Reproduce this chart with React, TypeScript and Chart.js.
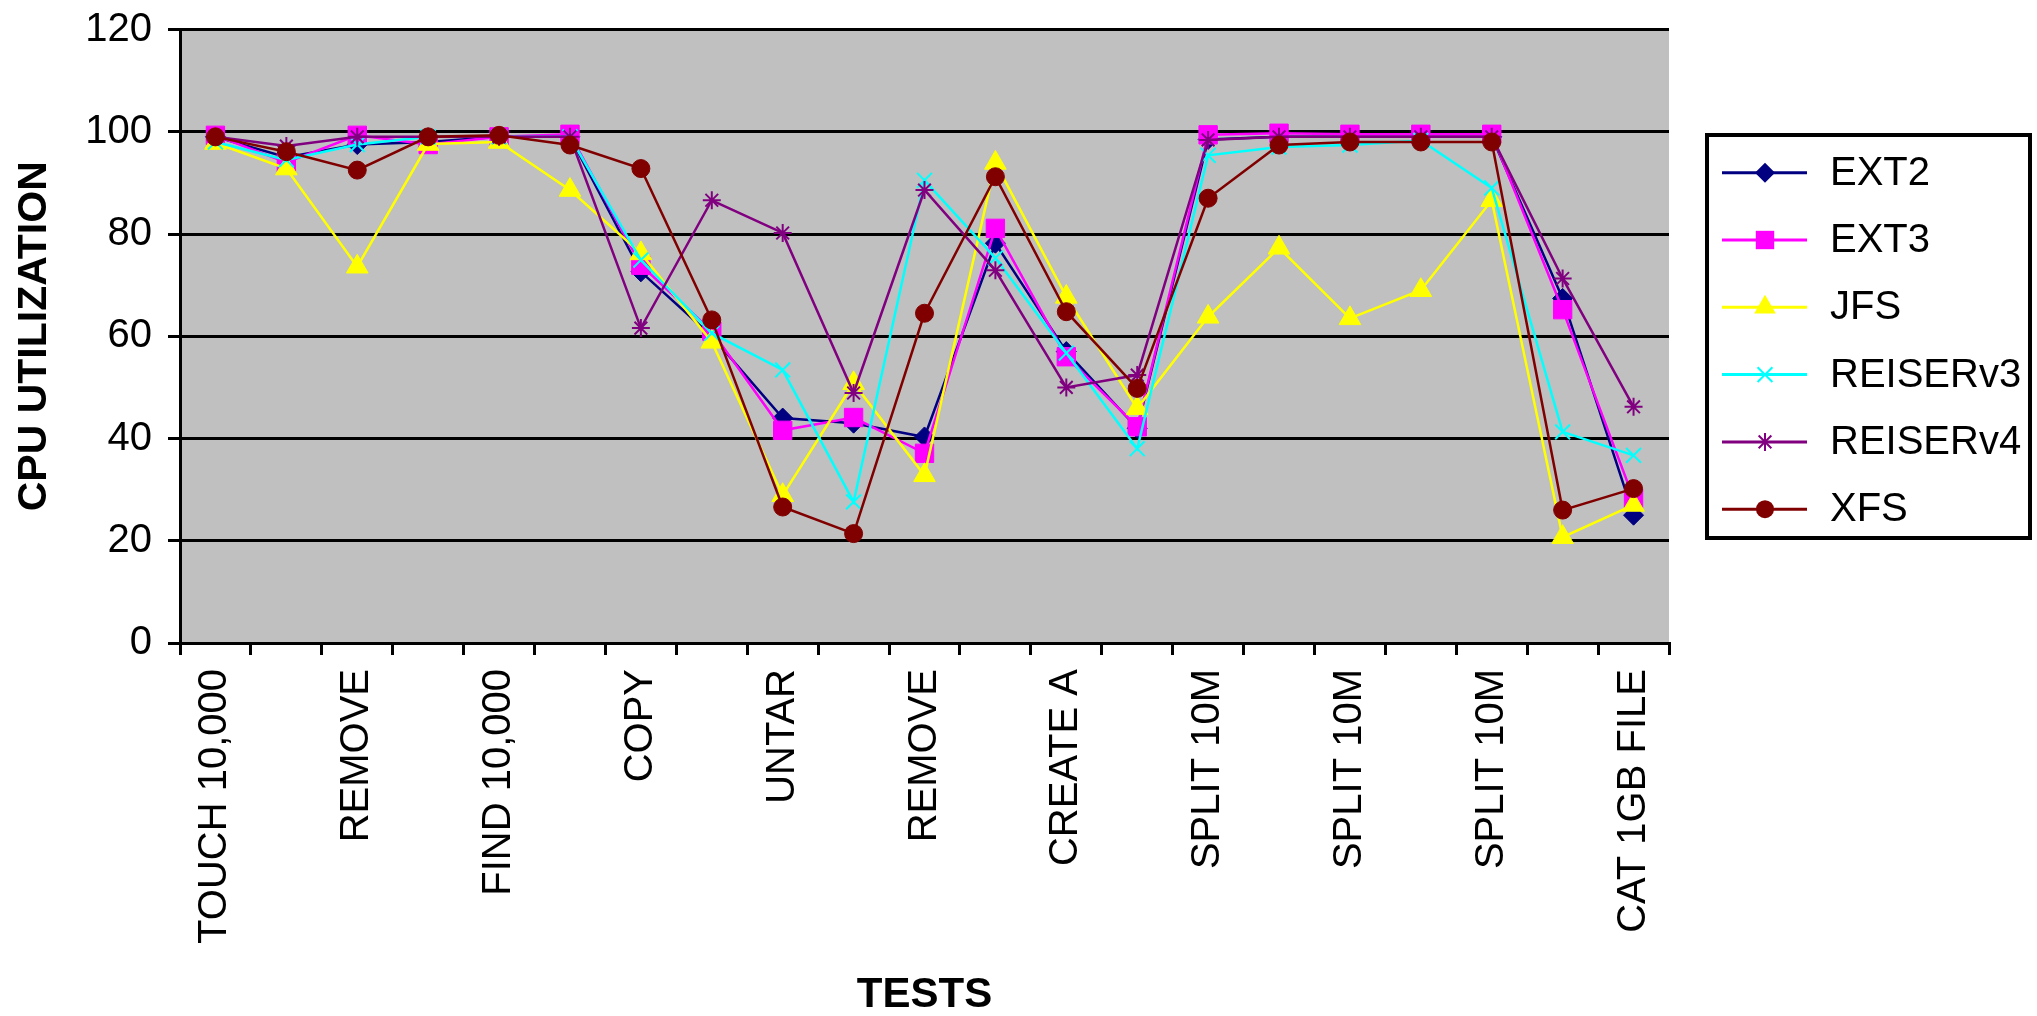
import React, { useEffect, useRef } from 'react';
import { Chart, registerables } from 'chart.js';

Chart.register(...registerables);

// ---- data ----
const categories = [
  'TOUCH 10,000', '', 'REMOVE', '', 'FIND 10,000', '', 'COPY', '', 'UNTAR', '',
  'REMOVE', '', 'CREATE A', '', 'SPLIT 10M', '', 'SPLIT 10M', '', 'SPLIT 10M', '', 'CAT 1GB FILE',
];

const seriesNames = ['EXT2', 'EXT3', 'JFS', 'REISERv3', 'REISERv4', 'XFS'];

const ext2 = [99, 95, 97.5, 98, 99, 99, 72.6, 60, 44, 43, 40.3, 78.2, 57, 42, 98.5, 99, 99, 99, 99, 67.4, 25];
const ext3 = [99.3, 94, 99.3, 97.5, 99, 99.5, 73.9, 61, 41.6, 44.1, 37.1, 81.1, 56, 42.3, 99.4, 99.7, 99.5, 99.5, 99.5, 65.2, 28.3];
const jfs = [97.8, 92.8, 73.6, 97.6, 98, 88.6, 76.2, 58.9, 28.9, 50.8, 32.8, 93.9, 67.7, 45.9, 63.8, 77.3, 63.5, 69, 86.6, 20.7, 27];
const reiserv3 = [98, 94.5, 97.5, 99, 99, 99, 74.9, 60.6, 53.4, 27.6, 90.5, 75.3, 56.7, 38, 95.4, 97, 97.4, 98.3, 89, 41.3, 36.7];
const reiserv4 = [99, 97.2, 99, 99, 99, 99, 61.6, 86.6, 80.2, 48.9, 88.6, 72.9, 50, 52.4, 98.4, 99, 99, 99, 99, 71.3, 46.2];
const xfs = [99, 96.1, 92.5, 99, 99.3, 97.4, 92.8, 63.2, 26.6, 21.4, 64.5, 91.2, 64.8, 49.8, 87, 97.4, 98, 98, 98, 26, 30.2];

const yMin = 0;
const yMax = 120;
const yStep = 20;

const seriesValues = [ext2, ext3, jfs, reiserv3, reiserv4, xfs];
const seriesColors = ['#000080', '#FF00FF', '#FFFF00', '#00FFFF', '#800080', '#800000'];
const seriesMarkers = ['rectRot', 'rect', 'triangle', 'crossRot', 'star', 'circle'];
const markerRadius = [10, 13, 12.5, 10.5, 9, 9];

const FONT = '"Liberation Sans", Arial, sans-serif';

function drawMarker(ctx: CanvasRenderingContext2D, style: string, x: number, y: number, r: number, color: string) {
  ctx.save();
  ctx.fillStyle = color;
  ctx.strokeStyle = color;
  ctx.lineWidth = 2;
  ctx.beginPath();
  const d = r * Math.SQRT1_2;
  switch (style) {
    case 'rectRot':
      ctx.moveTo(x - r, y);
      ctx.lineTo(x, y - r);
      ctx.lineTo(x + r, y);
      ctx.lineTo(x, y + r);
      ctx.closePath();
      ctx.fill();
      break;
    case 'rect':
      ctx.rect(x - d, y - d, 2 * d, 2 * d);
      ctx.fill();
      break;
    case 'triangle':
      ctx.moveTo(x, y - r);
      ctx.lineTo(x + r * 0.866, y + r * 0.5);
      ctx.lineTo(x - r * 0.866, y + r * 0.5);
      ctx.closePath();
      ctx.fill();
      break;
    case 'crossRot':
      ctx.moveTo(x - d, y - d);
      ctx.lineTo(x + d, y + d);
      ctx.moveTo(x + d, y - d);
      ctx.lineTo(x - d, y + d);
      ctx.stroke();
      break;
    case 'star':
      ctx.moveTo(x - d, y - d);
      ctx.lineTo(x + d, y + d);
      ctx.moveTo(x + d, y - d);
      ctx.lineTo(x - d, y + d);
      ctx.moveTo(x, y - r);
      ctx.lineTo(x, y + r);
      ctx.moveTo(x - r, y);
      ctx.lineTo(x + r, y);
      ctx.stroke();
      break;
    default:
      ctx.arc(x, y, r, 0, Math.PI * 2);
      ctx.fill();
  }
  ctx.restore();
}

const plotBackground = {
  id: 'plotBackground',
  beforeDraw(chart: any) {
    const { ctx, chartArea } = chart;
    ctx.save();
    ctx.fillStyle = '#FFFFFF';
    ctx.fillRect(0, 0, chart.width, chart.height);
    ctx.fillStyle = '#C0C0C0';
    ctx.fillRect(chartArea.left, chartArea.top, chartArea.right - chartArea.left, chartArea.bottom - chartArea.top);
    ctx.restore();
  },
};

const boxedLegend = {
  id: 'boxedLegend',
  afterDraw(chart: any) {
    const ctx: CanvasRenderingContext2D = chart.ctx;
    const left = 1707;
    const top = 135;
    const right = 2030;
    const bottom = 538;
    ctx.save();
    ctx.strokeStyle = '#000';
    ctx.lineWidth = 4;
    ctx.strokeRect(left, top, right - left, bottom - top);
    const firstY = 172.7;
    const step = 67.3;
    chart.data.datasets.forEach((ds: any, i: number) => {
      const y = firstY + step * i;
      ctx.strokeStyle = ds.borderColor;
      ctx.lineWidth = 3;
      ctx.beginPath();
      ctx.moveTo(1722, y);
      ctx.lineTo(1807, y);
      ctx.stroke();
      drawMarker(ctx, ds.pointStyle, 1765, y, ds.pointRadius, ds.borderColor);
      ctx.fillStyle = '#000';
      ctx.font = `40px ${FONT}`;
      ctx.textAlign = 'left';
      ctx.textBaseline = 'middle';
      ctx.fillText(ds.label, 1830, y + 1);
    });
    ctx.restore();
  },
};

export default function App() {
  const canvasRef = useRef<HTMLCanvasElement | null>(null);

  useEffect(() => {
    if (!canvasRef.current) return;
    const datasets = seriesNames.map((name, i) => ({
      label: name,
      data: seriesValues[i],
      borderColor: seriesColors[i],
      backgroundColor: seriesColors[i],
      pointBackgroundColor: seriesColors[i],
      pointBorderColor: seriesColors[i],
      pointStyle: seriesMarkers[i],
      pointRadius: markerRadius[i],
      pointBorderWidth: seriesMarkers[i] === 'crossRot' || seriesMarkers[i] === 'star' ? 2 : 1,
      borderWidth: 2.5,
      tension: 0,
      fill: false,
      order: seriesNames.length - i,
    }));

    const chart = new Chart(canvasRef.current, {
      type: 'line',
      data: { labels: categories, datasets },
      plugins: [plotBackground, boxedLegend],
      options: {
        animation: false,
        responsive: true,
        maintainAspectRatio: false,
        layout: { padding: { left: 0, right: 368, top: 29.5, bottom: 0 } },
        plugins: {
          legend: { display: false },
          tooltip: { enabled: false },
        },
        scales: {
          x: {
            type: 'category',
            offset: true,
            grid: {
              drawOnChartArea: false,
              drawTicks: true,
              tickLength: 12,
              offset: true,
              color: '#000',
              lineWidth: 3,
            },
            border: { display: true, color: '#000', width: 3 },
            ticks: {
              autoSkip: false,
              minRotation: 90,
              maxRotation: 90,
              padding: 14,
              color: '#000',
              font: { family: FONT, size: 40 },
              callback: (_v: any, idx: number) => categories[idx],
            },
            title: {
              display: true,
              text: 'TESTS',
              color: '#000',
              font: { family: FONT, size: 42, weight: 'bold', lineHeight: 1 },
              padding: { top: 0, bottom: 0 },
            },
            afterFit: (scale: any) => {
              scale.height = 373;
              scale.paddingLeft = 0;
              scale.paddingRight = 0;
            },
          },
          y: {
            min: yMin,
            max: yMax,
            ticks: {
              stepSize: yStep,
              padding: 16,
              color: '#000',
              font: { family: FONT, size: 40 },
            },
            grid: {
              color: '#000',
              lineWidth: 3,
              drawTicks: true,
              tickLength: 12,
            },
            border: { display: true, color: '#000', width: 3 },
            title: {
              display: true,
              text: 'CPU UTILIZATION',
              color: '#000',
              font: { family: FONT, size: 41, weight: 'bold', lineHeight: 1 },
              padding: { top: 14, bottom: 0 },
            },
            afterFit: (scale: any) => {
              scale.width = 180;
              scale.paddingTop = 0;
              scale.paddingBottom = 0;
            },
          },
        },
      },
    } as any);

    return () => {
      chart.destroy();
    };
  }, []);

  return (
    <div style={{ position: 'fixed', left: 0, top: 0, width: 2037, height: 1016, background: '#fff' }}>
      <canvas ref={canvasRef} />
    </div>
  );
}
